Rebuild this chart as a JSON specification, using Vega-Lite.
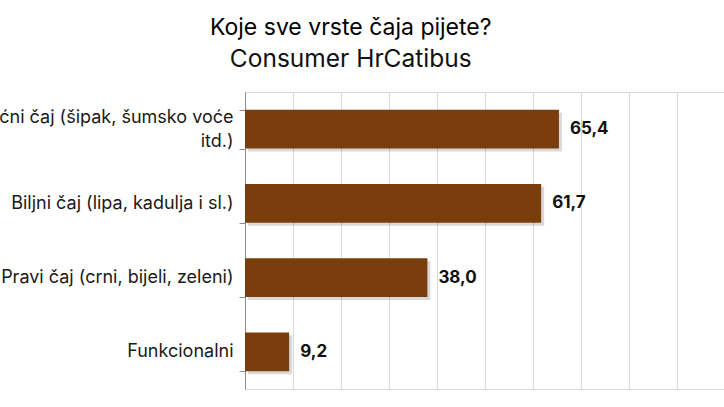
{
  "$schema": "https://vega.github.io/schema/vega-lite/v6.json",
  "autosize": {"type": "none"},
  "padding": {"left": 245, "top": 92, "right": 0, "bottom": 18},
  "width": 480,
  "height": 297,
  "background": "white",
  "title": {
    "text": "Koje sve vrste čaja pijete?",
    "subtitle": "Consumer HrCatibus",
    "anchor": "middle",
    "frame": "bounds",
    "font": "Inter",
    "fontSize": 23,
    "fontWeight": "normal",
    "color": "#000000",
    "subtitleFont": "Inter",
    "subtitleFontSize": 24.5,
    "subtitleFontWeight": "normal",
    "subtitleColor": "#111111",
    "subtitlePadding": 8,
    "offset": 12
  },
  "config": {
    "locale": {"number": {"decimal": ",", "thousands": ".", "grouping": [3], "currency": ["", " €"]}},
    "view": {"stroke": "#d9d9d9", "strokeWidth": 1},
    "font": "Inter"
  },
  "data": {
    "values": [
      {"cat": "Voćni čaj (šipak, šumsko voće itd.)", "value": 65.4},
      {"cat": "Biljni čaj (lipa, kadulja i sl.)", "value": 61.7},
      {"cat": "Pravi čaj (crni, bijeli, zeleni)", "value": 38.0},
      {"cat": "Funkcionalni", "value": 9.2}
    ]
  },
  "encoding": {
    "y": {
      "field": "cat",
      "type": "nominal",
      "sort": null,
      "scale": {"paddingInner": 0.475, "paddingOuter": 0.2375},
      "axis": {
        "title": null,
        "domainColor": "#8c8c8c",
        "tickColor": "#8c8c8c",
        "tickSize": 6,
        "tickBand": "extent",
        "labelPadding": 6,
        "labelFont": "Inter",
        "labelFontSize": 18,
        "labelColor": "#1a1a1a",
        "labelLimit": 0,
        "labelLineHeight": 24,
        "labelExpr": "datum.value == 'Voćni čaj (šipak, šumsko voće itd.)' ? ['Voćni čaj (šipak, šumsko voće', 'itd.)'] : datum.value",
        "labelOffset": {"expr": "datum.value == 'Voćni čaj (šipak, šumsko voće itd.)' ? -12 : 0"},
        "grid": false
      }
    },
    "x": {
      "field": "value",
      "type": "quantitative",
      "scale": {"domain": [0, 100], "nice": false},
      "axis": {
        "title": null,
        "labels": false,
        "ticks": false,
        "domain": false,
        "grid": true,
        "gridColor": "#d9d9d9",
        "values": [0, 10, 20, 30, 40, 50, 60, 70, 80, 90, 100]
      }
    }
  },
  "layer": [
    {
      "mark": {"type": "bar", "color": "#000000", "opacity": 0.15, "xOffset": 3, "yOffset": 3}
    },
    {
      "mark": {"type": "bar", "color": "#7a3e0c"}
    },
    {
      "mark": {"type": "text", "align": "left", "baseline": "middle", "dx": 11, "fontSize": 17, "fontWeight": "bold", "color": "#111111", "font": "Inter"},
      "encoding": {
        "text": {"field": "value", "type": "quantitative", "format": ".1f"}
      }
    }
  ]
}
